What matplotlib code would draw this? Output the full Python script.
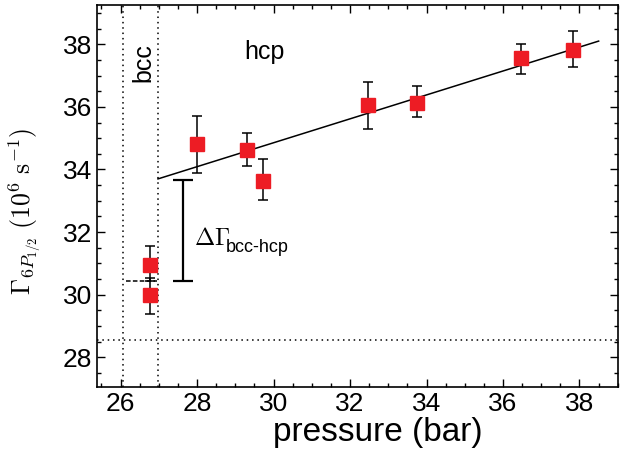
import numpy as np
import matplotlib
matplotlib.use('Agg')
import matplotlib.pyplot as plt
from matplotlib.ticker import MultipleLocator

plt.rcParams['font.family'] = ['Liberation Sans', 'DejaVu Sans']
plt.rcParams['mathtext.fontset'] = 'cm'

# measured decay rates
pressure = [26.78, 26.78, 28.0, 29.32, 29.73, 32.47, 33.75, 36.47, 37.83]
gamma = [30.0, 30.95, 34.8, 34.62, 33.62, 36.05, 36.12, 37.55, 37.82]
err_lo = [0.6, 0.5, 0.9, 0.5, 0.6, 0.75, 0.45, 0.5, 0.55]
err_hi = [0.55, 0.6, 0.9, 0.55, 0.7, 0.75, 0.55, 0.45, 0.6]

# linear fit through hcp data
fit_x = [26.98, 38.5]
fit_y = [33.7, 38.1]

bcc_edges = [26.07, 26.98]
gamma_ref = 28.55
gamma_bcc = 30.45
gamma_hcp = 33.65
delta_x = 27.64

fig, ax = plt.subplots(figsize=(6.31, 4.62), dpi=100)
fig.subplots_adjust(left=0.154, right=0.979, top=0.989, bottom=0.162)

ax.plot(fit_x, fit_y, color='black', lw=1.1)
for xv in bcc_edges:
    ax.axvline(xv, color='black', ls=(0, (1, 2.5)), lw=1.1)
ax.axhline(gamma_ref, color='black', ls=(0, (1, 2.5)), lw=1.1)
ax.plot([bcc_edges[0] + 0.08, bcc_edges[1] - 0.03], [gamma_bcc, gamma_bcc],
        color='black', ls=(0, (3, 1.5)), lw=1.1)

ax.errorbar(delta_x, (gamma_bcc + gamma_hcp) / 2, yerr=(gamma_hcp - gamma_bcc) / 2,
            fmt='none', ecolor='black', elinewidth=1.6, capsize=7, capthick=1.6)

ax.errorbar(pressure, gamma, yerr=[err_lo, err_hi], fmt='s', color='#ED1C24',
            markersize=9.5, ecolor='black', elinewidth=1.1, capsize=3.5, capthick=1.1,
            zorder=3)

ax.text(27.92, 31.58, r'$\Delta\Gamma$', fontsize=17.5, va='baseline')
ax.text(28.74, 31.35, 'bcc-hcp', fontsize=13, va='baseline')
ax.text(29.75, 37.75, 'hcp', fontsize=18, ha='center', va='center')
ax.text(26.59, 37.4, 'bcc', fontsize=18, ha='center', va='center', rotation=90)

ax.set_xlim(25.39, 39.0)
ax.set_ylim(27.05, 39.25)
ax.xaxis.set_major_locator(MultipleLocator(2))
ax.xaxis.set_minor_locator(MultipleLocator(0.5))
ax.yaxis.set_major_locator(MultipleLocator(2))
ax.yaxis.set_minor_locator(MultipleLocator(0.5))
ax.tick_params(which='both', direction='in', top=True, right=True, labelsize=19)
ax.tick_params(which='major', length=6, width=1)
ax.tick_params(which='minor', length=3, width=1)
for s in ax.spines.values():
    s.set_linewidth(1.2)

ax.set_xlabel('pressure (bar)', fontsize=24, labelpad=1)
ax.xaxis.label.set_x(0.54)
ax.set_ylabel(r'$\Gamma_{6P_{1/2}}\ (10^6\ \mathrm{s}^{-1})$', fontsize=18.5)
ax.yaxis.set_label_coords(-0.105, 0.46)

fig.savefig('out.png', dpi=100)
